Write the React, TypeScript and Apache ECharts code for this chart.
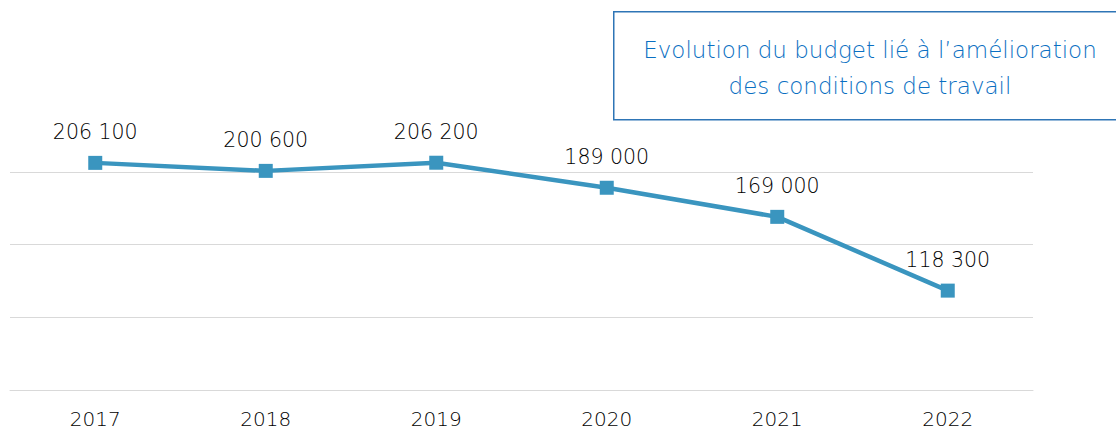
import React, { useEffect, useRef } from "react";
import * as echarts from "echarts";

const years = ["2017", "2018", "2019", "2020", "2021", "2022"];
const budget = [206100, 200600, 206200, 189000, 169000, 118300];
const titleLines = ["Evolution du budget lié à l’amélioration", "des conditions de travail"];

const FONT = "'DejaVu Sans', sans-serif";
const WEIGHT = 200;

const fmt = (v: number) => {
  const s = Math.round(v).toString();
  return s.replace(/\B(?=(\d{3})+(?!\d))/g, " ");
};

export default function App() {
  const ref = useRef<HTMLDivElement>(null);
  useEffect(() => {
    if (!ref.current) return;
    const chart = echarts.init(ref.current, undefined, { renderer: "svg" });
    chart.setOption({
      animation: false,
      backgroundColor: "#ffffff",
      grid: { left: 10, right: 83, top: 99, bottom: 40, containLabel: false },
      xAxis: {
        type: "category",
        data: years,
        boundaryGap: true,
        axisLine: { show: true, lineStyle: { color: "#d9d9d9", width: 1 } },
        axisTick: { show: false },
        axisLabel: { color: "#000000", fontSize: 20, fontFamily: FONT, fontWeight: WEIGHT, margin: 19 },
      },
      yAxis: {
        type: "value",
        min: 50000,
        max: 250000,
        interval: 50000,
        axisLabel: { show: false },
        axisLine: { show: false },
        axisTick: { show: false },
        splitLine: {
          show: true,
          lineStyle: {
            color: ["#d9d9d9", "#d9d9d9", "#d9d9d9", "#d9d9d9", "rgba(0,0,0,0)"],
            width: 1,
          },
        },
      },
      series: [
        {
          type: "line",
          data: budget,
          symbol: "rect",
          symbolSize: 14,
          lineStyle: { color: "#3a95bf", width: 4.5 },
          itemStyle: { color: "#3a95bf" },
          label: {
            show: true,
            position: "top",
            distance: 13,
            color: "#000000",
            fontSize: 20.5,
            fontFamily: FONT,
            fontWeight: WEIGHT,
            formatter: (p: any) => fmt(p.value),
          },
        },
      ],
      graphic: [
        {
          type: "rect",
          left: 613,
          top: 11,
          shape: { width: 520, height: 108 },
          style: { fill: "#ffffff", stroke: "#2e75b6", lineWidth: 1.5 },
        },
        {
          type: "text",
          x: 870,
          y: 50,
          style: {
            text: titleLines[0],
            fill: "#0a6fc2",
            fontSize: 23,
            fontFamily: FONT,
            fontWeight: WEIGHT,
            align: "center",
            verticalAlign: "middle",
          },
        },
        {
          type: "text",
          x: 870,
          y: 86,
          style: {
            text: titleLines[1],
            fill: "#0a6fc2",
            fontSize: 23,
            fontFamily: FONT,
            fontWeight: WEIGHT,
            align: "center",
            verticalAlign: "middle",
          },
        },
      ],
    });
    return () => chart.dispose();
  }, []);
  return <div ref={ref} style={{ width: 1116, height: 430, position: "absolute", left: 0, top: 0 }} />;
}
